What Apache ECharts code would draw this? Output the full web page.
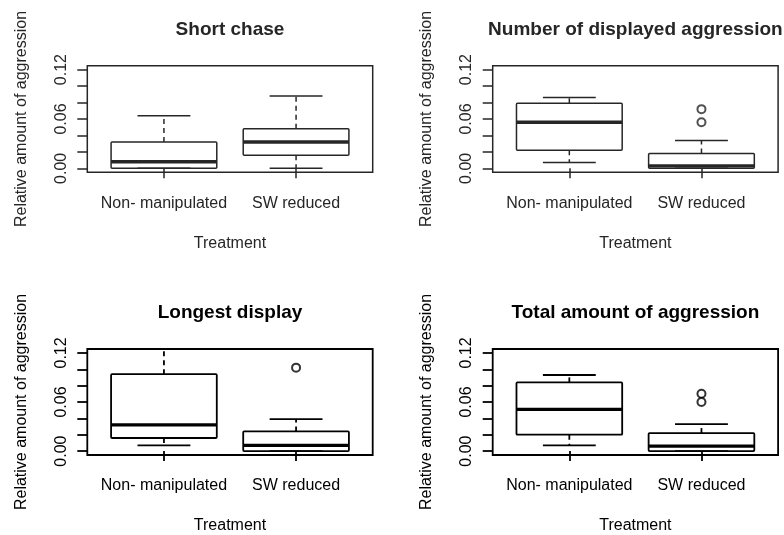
<!DOCTYPE html>
<html>
<head>
<meta charset="utf-8">
<style>
  html, body { margin: 0; padding: 0; background: #fff; }
  #chart { width: 784px; height: 535px; }
</style>
<script src="https://cdn.jsdelivr.net/npm/echarts@6/dist/echarts.min.js"></script>
</head>
<body>
<div id="chart"></div>
<script>
// Treatment groups on the x axis
const categories = ['Non- manipulated', 'SW reduced'];

// Panel titles
const panelTitles = ['Short chase', 'Number of displayed aggression', 'Longest display', 'Total amount of aggression'];

// Box statistics per group: [lower whisker, Q1, median, Q3, upper whisker]
const shortChase      = [[0.000, 0.000, 0.008, 0.032, 0.064], [0.000, 0.016, 0.032, 0.048, 0.088]];
const displayedCount  = [[0.007, 0.022, 0.056, 0.079, 0.086], [0.000, 0.000, 0.003, 0.018, 0.034]];
const longestDisplay  = [[0.007, 0.016, 0.032, 0.094, 0.140], [0.000, 0.000, 0.007, 0.024, 0.039]];
const totalAggression = [[0.007, 0.020, 0.051, 0.084, 0.093], [0.000, 0.000, 0.006, 0.022, 0.033]];

// Outlying observations per group
const shortChaseOut      = [[], []];
const displayedCountOut  = [[], [0.072, 0.056]];
const longestDisplayOut  = [[], [0.102]];
const totalAggressionOut = [[], [0.070, 0.060]];

// Axis ticks and labels
const yTicks  = [0, 0.02, 0.04, 0.06, 0.08, 0.10, 0.12];
const yLabels = [0, 0.06, 0.12];
const xTicks  = [1, 2];

const yTitle = 'Relative amount of aggression';
const xTitle = 'Treatment';

// ---- layout ----
const FONT = '"Liberation Sans", Arial, Helvetica, sans-serif';
const panels = [
  { stats: shortChase,      out: shortChaseOut,      left: 87.3,  top: 65.7, height: 106.6, ink: '#262626', lw: 1.5 },
  { stats: displayedCount,  out: displayedCountOut,  left: 492.7, top: 65.7, height: 106.6, ink: '#262626', lw: 1.5 },
  { stats: longestDisplay,  out: longestDisplayOut,  left: 87.3,  top: 349,  height: 108,   ink: '#000',    lw: 1.8 },
  { stats: totalAggression, out: totalAggressionOut, left: 492.7, top: 349,  height: 108,   ink: '#000',    lw: 1.8 }
];
const PW = 285.4;
const BOX_HALF = 0.4, CAP_HALF = 0.2;

function makeRenderer(ink, lw) {
  return function (params, api) {
    const x = api.value(0);
    const lo = api.value(1), q1 = api.value(2), md = api.value(3), q3 = api.value(4), hi = api.value(5);
    const c = (xv, yv) => api.coord([xv, yv]);
    const line = (a, b, w, dash) => ({
      type: 'line',
      shape: { x1: a[0], y1: a[1], x2: b[0], y2: b[1] },
      style: { stroke: ink, lineWidth: w, lineDash: dash || null }
    });
    const children = [];
    // whiskers (dashed) and caps
    if (hi > q3) children.push(line(c(x, q3), c(x, hi), lw, [5, 4]));
    if (lo < q1) children.push(line(c(x, q1), c(x, lo), lw, [5, 4]));
    children.push(line(c(x - CAP_HALF, hi), c(x + CAP_HALF, hi), lw));
    children.push(line(c(x - CAP_HALF, lo), c(x + CAP_HALF, lo), lw));
    // box
    const p1 = c(x - BOX_HALF, q3), p2 = c(x + BOX_HALF, q1);
    children.push({
      type: 'rect',
      shape: { x: p1[0], y: p1[1], width: p2[0] - p1[0], height: p2[1] - p1[1], r: 1 },
      style: { fill: 'none', stroke: ink, lineWidth: lw }
    });
    // median
    children.push(line(c(x - BOX_HALF, md), c(x + BOX_HALF, md), 3.4));
    return { type: 'group', children: children };
  };
}

const grid = [], xAxis = [], yAxis = [], series = [], graphic = [];
panels.forEach((p, i) => {
  grid.push({
    left: p.left, top: p.top, width: PW, height: p.height,
    show: true, borderColor: p.ink, borderWidth: p.lw, backgroundColor: 'transparent'
  });
  xAxis.push({
    gridIndex: i, type: 'value', min: 0.42, max: 2.58,
    axisLine: { show: false },
    splitLine: { show: false },
    axisTick: { show: true, customValues: xTicks, length: 10, lineStyle: { color: p.ink, width: p.lw } },
    axisLabel: {
      customValues: xTicks, margin: 23, fontSize: 16, fontFamily: FONT, color: p.ink,
      formatter: v => categories[Math.round(v) - 1]
    },
    name: xTitle, nameLocation: 'middle', nameGap: 63,
    nameTextStyle: { fontSize: 16, fontFamily: FONT, color: p.ink }
  });
  yAxis.push({
    gridIndex: i, type: 'value', min: -0.0048, max: 0.1248,
    axisLine: { show: false },
    splitLine: { show: false },
    axisTick: { show: true, customValues: yTicks, length: 10, lineStyle: { color: p.ink, width: p.lw } },
    axisLabel: {
      customValues: yLabels, rotate: 90, margin: 18, fontSize: 16, fontFamily: FONT, color: p.ink,
      formatter: v => v.toFixed(2)
    },
    name: yTitle, nameLocation: 'middle', nameRotate: 90, nameGap: 58,
    nameTextStyle: { fontSize: 16, fontFamily: FONT, color: p.ink }
  });
  series.push({
    type: 'custom', xAxisIndex: i, yAxisIndex: i, clip: true,
    renderItem: makeRenderer(p.ink, p.lw),
    encode: { x: 0, y: [1, 2, 3, 4, 5] },
    data: p.stats.map((s, k) => [k + 1].concat(s))
  });
  const outPts = [];
  p.out.forEach((vals, k) => vals.forEach(v => outPts.push([k + 1, v])));
  series.push({
    type: 'scatter', xAxisIndex: i, yAxisIndex: i,
    symbol: 'emptyCircle', symbolSize: 8,
    itemStyle: { color: p.ink, borderColor: p.ink, borderWidth: 1.5 },
    data: outPts
  });
  graphic.push({
    type: 'text', x: p.left + PW / 2, y: p.top - 36,
    style: {
      text: panelTitles[i], fill: p.ink, align: 'center', verticalAlign: 'middle',
      font: 'bold 19px ' + FONT
    }
  });
});

const chart = echarts.init(document.getElementById('chart'), null, { renderer: 'canvas' });
chart.setOption({
  animation: false,
  backgroundColor: '#fff',
  grid, xAxis, yAxis, series, graphic
});
</script>
</body>
</html>
